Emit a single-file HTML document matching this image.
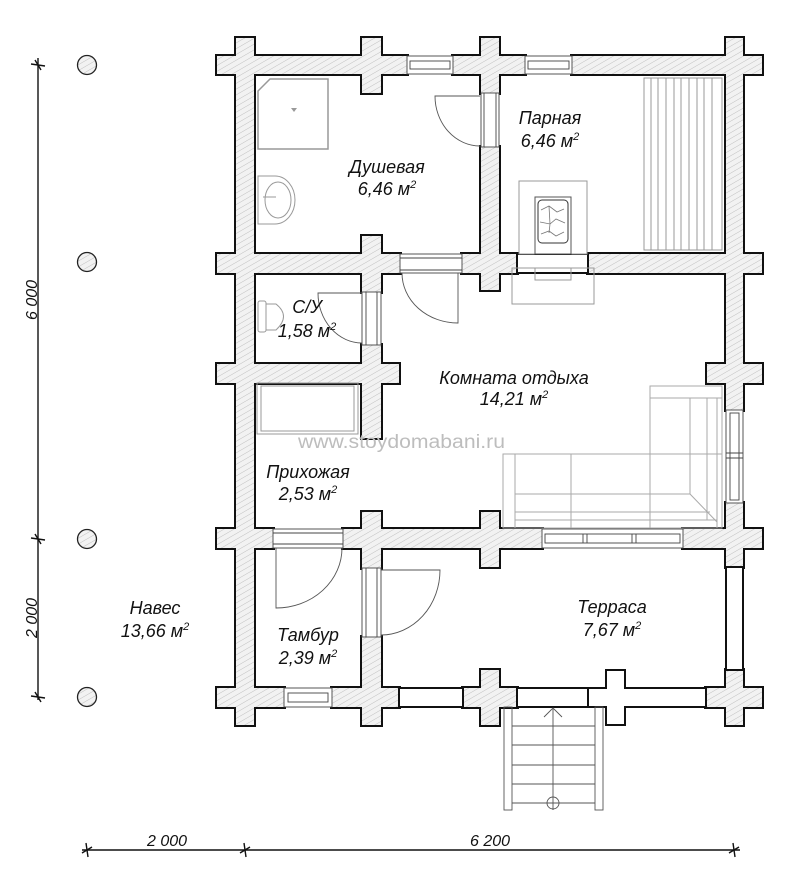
<!DOCTYPE html>
<html><head><meta charset="utf-8">
<style>
html,body{margin:0;padding:0;background:#fff;}
svg{display:block;}
.lb{font-family:"Liberation Sans",sans-serif;font-style:italic;font-size:18px;fill:#111;text-anchor:middle;}
.dm{font-family:"Liberation Sans",sans-serif;font-style:italic;font-size:16px;fill:#111;text-anchor:middle;}
.f{fill:none;stroke:#999;stroke-width:1;}
.w{fill:#fff;stroke:#444;stroke-width:0.9;}
</style></head>
<body>
<svg width="800" height="888" viewBox="0 0 800 888" xmlns="http://www.w3.org/2000/svg">
<defs>
<pattern id="h" width="5" height="5" patternUnits="userSpaceOnUse" patternTransform="rotate(60)">
<rect width="5" height="5" fill="#f2f2f2"/>
<line x1="0" y1="0" x2="0" y2="5" stroke="#bbb" stroke-width="0.9"/>
</pattern>
</defs>

<g fill="none" stroke="#111" stroke-width="4">
<rect x="217" y="56" width="190" height="18"/>
<rect x="453" y="56" width="72" height="18"/>
<rect x="572" y="56" width="190" height="18"/>
<rect x="217" y="254" width="183" height="19"/>
<rect x="462" y="254" width="55" height="19"/>
<rect x="588" y="254" width="174" height="19"/>
<rect x="217" y="364" width="182" height="19"/>
<rect x="707" y="364" width="55" height="19"/>
<rect x="217" y="529" width="56" height="19"/>
<rect x="343" y="529" width="199" height="19"/>
<rect x="683" y="529" width="79" height="19"/>
<rect x="217" y="688" width="67" height="19"/>
<rect x="332" y="688" width="67" height="19"/>
<rect x="463" y="688" width="54" height="19"/>
<rect x="706" y="688" width="56" height="19"/>
<rect x="236" y="38" width="18" height="687"/>
<rect x="362" y="38" width="19" height="55"/>
<rect x="362" y="236" width="19" height="56"/>
<rect x="362" y="345" width="19" height="93"/>
<rect x="362" y="512" width="19" height="56"/>
<rect x="362" y="637" width="19" height="88"/>
<rect x="481" y="38" width="18" height="55"/>
<rect x="481" y="147" width="18" height="143"/>
<rect x="481" y="512" width="18" height="55"/>
<rect x="481" y="670" width="18" height="55"/>
<rect x="726" y="38" width="17" height="372"/>
<rect x="726" y="503" width="17" height="64"/>
<rect x="726" y="670" width="17" height="55"/>
</g>
<g fill="url(#h)" stroke="none">
<rect x="217" y="56" width="190" height="18"/>
<rect x="453" y="56" width="72" height="18"/>
<rect x="572" y="56" width="190" height="18"/>
<rect x="217" y="254" width="183" height="19"/>
<rect x="462" y="254" width="55" height="19"/>
<rect x="588" y="254" width="174" height="19"/>
<rect x="217" y="364" width="182" height="19"/>
<rect x="707" y="364" width="55" height="19"/>
<rect x="217" y="529" width="56" height="19"/>
<rect x="343" y="529" width="199" height="19"/>
<rect x="683" y="529" width="79" height="19"/>
<rect x="217" y="688" width="67" height="19"/>
<rect x="332" y="688" width="67" height="19"/>
<rect x="463" y="688" width="54" height="19"/>
<rect x="706" y="688" width="56" height="19"/>
<rect x="236" y="38" width="18" height="687"/>
<rect x="362" y="38" width="19" height="55"/>
<rect x="362" y="236" width="19" height="56"/>
<rect x="362" y="345" width="19" height="93"/>
<rect x="362" y="512" width="19" height="56"/>
<rect x="362" y="637" width="19" height="88"/>
<rect x="481" y="38" width="18" height="55"/>
<rect x="481" y="147" width="18" height="143"/>
<rect x="481" y="512" width="18" height="55"/>
<rect x="481" y="670" width="18" height="55"/>
<rect x="726" y="38" width="17" height="372"/>
<rect x="726" y="503" width="17" height="64"/>
<rect x="726" y="670" width="17" height="55"/>
</g>

<path d="M588 688 H606 V670 H625 V688 H706 V707 H625 V725 H606 V707 H588 Z" fill="#fff" stroke="#111" stroke-width="2"/>
<rect x="399" y="688" width="64" height="19" fill="#fff" stroke="#111" stroke-width="2"/>
<rect x="517" y="688" width="71" height="19" fill="#fff" stroke="#111" stroke-width="2"/>
<rect x="726" y="567" width="17" height="103" fill="#fff" stroke="#111" stroke-width="2"/>

<g class="w">
<rect x="407" y="56" width="46" height="18"/><rect x="410" y="61" width="40" height="8"/>
<rect x="525" y="56" width="47" height="18"/><rect x="528" y="61" width="41" height="8"/>
<rect x="481" y="93" width="18" height="54"/><line x1="484" y1="93" x2="484" y2="147"/><line x1="496" y1="93" x2="496" y2="147"/>
<rect x="400" y="254" width="62" height="19"/><line x1="400" y1="258" x2="462" y2="258"/><line x1="400" y1="270" x2="462" y2="270"/>
<rect x="362" y="292" width="19" height="53"/><line x1="366" y1="292" x2="366" y2="345"/><line x1="377" y1="292" x2="377" y2="345"/>
<rect x="726" y="410" width="17" height="93"/><rect x="730" y="413" width="9" height="87"/><line x1="726" y1="453" x2="743" y2="453"/><line x1="726" y1="458" x2="743" y2="458"/>
<rect x="273" y="529" width="70" height="19"/><line x1="273" y1="533" x2="343" y2="533"/><line x1="273" y1="544" x2="343" y2="544"/>
<rect x="542" y="529" width="141" height="19"/><rect x="545" y="534" width="135" height="9"/>
<line x1="583" y1="534" x2="583" y2="543"/><line x1="587" y1="534" x2="587" y2="543"/><line x1="632" y1="534" x2="632" y2="543"/><line x1="636" y1="534" x2="636" y2="543"/>
<rect x="362" y="568" width="19" height="69"/><line x1="366" y1="568" x2="366" y2="637"/><line x1="377" y1="568" x2="377" y2="637"/>
<rect x="284" y="688" width="48" height="19"/><rect x="288" y="693" width="40" height="9"/>
</g>

<rect x="517" y="254" width="71" height="19" fill="#fff" stroke="#111" stroke-width="2"/>
<rect x="512" y="268" width="82" height="36" fill="none" stroke="#999" stroke-width="1"/>
<rect x="535" y="268" width="36" height="12" fill="none" stroke="#999" stroke-width="1"/>
<rect x="519" y="181" width="68" height="73" fill="#fff" stroke="#999" stroke-width="1"/>
<rect x="535" y="197" width="36" height="57" fill="#fff" stroke="#555" stroke-width="1"/>
<rect x="538" y="200" width="30" height="43" rx="4" fill="#fff" stroke="#333" stroke-width="1"/>
<path d="M541 210 l8 -4 l8 6 l7 -3 M540 222 l10 2 l6 -5 l9 4 M541 234 l8 -3 l7 5 l8 -4 M549 206 l1 18 l-1 9" fill="none" stroke="#777" stroke-width="0.8"/>

<rect x="644" y="78" width="78" height="172" class="f"/>
<g stroke="#999" stroke-width="1">
<line x1="651" y1="78" x2="651" y2="250"/><line x1="658" y1="78" x2="658" y2="250"/><line x1="666" y1="78" x2="666" y2="250"/>
<line x1="674" y1="78" x2="674" y2="250"/><line x1="681" y1="78" x2="681" y2="250"/><line x1="689" y1="78" x2="689" y2="250"/>
<line x1="697" y1="78" x2="697" y2="250"/><line x1="704" y1="78" x2="704" y2="250"/><line x1="712" y1="78" x2="712" y2="250"/>
</g>

<path d="M270 79 H328 V149 H258 V91 Z" fill="#fff" stroke="#999" stroke-width="1.5"/>
<path d="M291 108 l3 4 l3 -4 z" fill="#999"/>
<path d="M258 176 H275 A20 24 0 0 1 275 224 H258 Z" fill="#fff" stroke="#999" stroke-width="1"/>
<ellipse cx="278" cy="200" rx="13" ry="18" fill="none" stroke="#999"/>
<line x1="263" y1="197" x2="276" y2="197" stroke="#999"/>
<rect x="258" y="301" width="8" height="31" rx="2" class="f"/>
<path d="M266 304 H276 Q291 316 276 330 H266 Z" class="f"/>
<rect x="257" y="383" width="101" height="51" class="f"/>
<rect x="261" y="386" width="93" height="45" class="f"/>
<g fill="none" stroke="#aaa" stroke-width="1">
<path d="M503 454 H650 V386 H722 V528 H503 Z"/>
<line x1="650" y1="398" x2="722" y2="398"/>
<line x1="515" y1="454" x2="515" y2="528"/>
<line x1="571" y1="454" x2="571" y2="528"/>
<line x1="650" y1="454" x2="650" y2="528"/>
<line x1="690" y1="398" x2="690" y2="494"/>
<line x1="707" y1="398" x2="707" y2="520"/>
<line x1="717" y1="398" x2="717" y2="528"/>
<line x1="503" y1="454" x2="722" y2="454"/>
<line x1="515" y1="494" x2="690" y2="494"/>
<line x1="515" y1="512" x2="710" y2="512"/>
<line x1="515" y1="520" x2="717" y2="520"/>
<line x1="690" y1="494" x2="717" y2="522"/>
</g>

<g fill="none" stroke="#555" stroke-width="0.9">
<path d="M480 96 H435 A45 50 0 0 0 480 146"/>
<path d="M458 273 V323 A56 50 0 0 1 402 273"/>
<path d="M362 293 H318 A44 50 0 0 0 362 343"/>
<path d="M276 548 V608 A66 60 0 0 0 342 548"/>
<path d="M381 570 H440 A59 65 0 0 1 381 635"/>
</g>

<g fill="none" stroke="#555" stroke-width="0.9">
<rect x="504" y="707" width="8" height="103"/>
<rect x="595" y="707" width="8" height="103"/>
<line x1="512" y1="726" x2="595" y2="726"/>
<line x1="512" y1="745" x2="595" y2="745"/>
<line x1="512" y1="765" x2="595" y2="765"/>
<line x1="512" y1="784" x2="595" y2="784"/>
<line x1="512" y1="803" x2="595" y2="803"/>
<line x1="553" y1="709" x2="553" y2="810"/>
<path d="M544 717 L553 708 L562 717"/>
<circle cx="553" cy="803" r="6"/>
</g>

<g fill="url(#h)" stroke="#222" stroke-width="1.3">
<circle cx="87" cy="65" r="9.5"/>
<circle cx="87" cy="262" r="9.5"/>
<circle cx="87" cy="539" r="9.5"/>
<circle cx="87" cy="697" r="9.5"/>
</g>

<g stroke="#111" stroke-width="1.4">
<line x1="38" y1="58" x2="38" y2="700"/>
<line x1="31" y1="64" x2="45" y2="66"/><line x1="35" y1="60" x2="41" y2="70"/>
<line x1="31" y1="538" x2="45" y2="540"/><line x1="35" y1="534" x2="41" y2="544"/>
<line x1="31" y1="696" x2="45" y2="698"/><line x1="35" y1="692" x2="41" y2="702"/>
<line x1="82" y1="850" x2="740" y2="850"/>
<line x1="86" y1="843" x2="88" y2="857"/><line x1="82" y1="853" x2="92" y2="847"/>
<line x1="244" y1="843" x2="246" y2="857"/><line x1="240" y1="853" x2="250" y2="847"/>
<line x1="733" y1="843" x2="735" y2="857"/><line x1="729" y1="853" x2="739" y2="847"/>
</g>
<text class="dm" transform="translate(32,300) rotate(-90)" y="5">6 000</text>
<text class="dm" transform="translate(32,618) rotate(-90)" y="5">2 000</text>
<text class="dm" x="167" y="846">2 000</text>
<text class="dm" x="490" y="846">6 200</text>

<text class="lb" x="387" y="173">Душевая</text>
<text class="lb" x="387" y="195">6,46 м<tspan dy="-7" font-size="11">2</tspan></text>
<text class="lb" x="550" y="124">Парная</text>
<text class="lb" x="550" y="147">6,46 м<tspan dy="-7" font-size="11">2</tspan></text>
<text class="lb" x="307" y="313">С/У</text>
<text class="lb" x="307" y="337">1,58 м<tspan dy="-7" font-size="11">2</tspan></text>
<text class="lb" x="514" y="384">Комната отдыха</text>
<text class="lb" x="514" y="405">14,21 м<tspan dy="-7" font-size="11">2</tspan></text>
<text x="298" y="448" font-family="Liberation Sans, sans-serif" font-size="19" fill="#bdbdbd" textLength="207" lengthAdjust="spacingAndGlyphs">www.stoydomabani.ru</text>
<text class="lb" x="308" y="478">Прихожая</text>
<text class="lb" x="308" y="500">2,53 м<tspan dy="-7" font-size="11">2</tspan></text>
<text class="lb" x="155" y="614">Навес</text>
<text class="lb" x="155" y="637">13,66 м<tspan dy="-7" font-size="11">2</tspan></text>
<text class="lb" x="308" y="641">Тамбур</text>
<text class="lb" x="308" y="664">2,39 м<tspan dy="-7" font-size="11">2</tspan></text>
<text class="lb" x="612" y="613">Терраса</text>
<text class="lb" x="612" y="636">7,67 м<tspan dy="-7" font-size="11">2</tspan></text>
</svg>
</body></html>
